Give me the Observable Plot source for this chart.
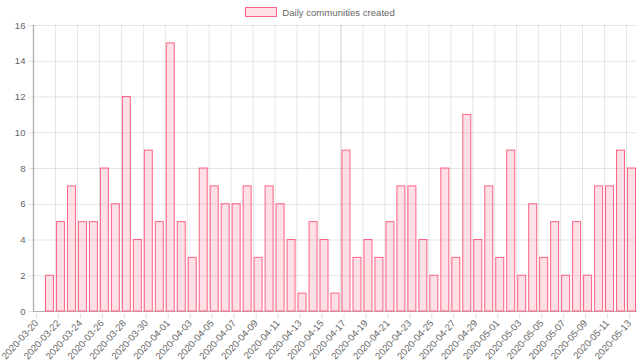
<!DOCTYPE html>
<html>
<head>
<meta charset="utf-8">
<script src="https://cdn.jsdelivr.net/npm/d3@7"></script>
<script src="https://cdn.jsdelivr.net/npm/@observablehq/plot@0.6"></script>
<style>
  body { margin: 0; background: #fff; font-family: "Liberation Sans", Arial, Helvetica, sans-serif; }
  #wrap { width: 640px; }
  #legend { height: 19px; box-sizing: border-box; padding-top: 5px; display: flex; justify-content: center; align-items: center; font-size: 9.6px; color: #666; }
  #legend .box { width: 30px; height: 8px; background: rgba(255,99,132,0.2); border: 1px solid rgb(255,99,132); margin-right: 5px; }
  svg { display: block; }
</style>
</head>
<body>
<div id="wrap">
  <div id="legend"></div>
  <div id="chart"></div>
</div>
<script>
const seriesName = "Daily communities created";

const days = [
  "2020-03-21","2020-03-22","2020-03-23","2020-03-24","2020-03-25","2020-03-26","2020-03-27","2020-03-28","2020-03-29","2020-03-30","2020-03-31",
  "2020-04-01","2020-04-02","2020-04-03","2020-04-04","2020-04-05","2020-04-06","2020-04-07","2020-04-08","2020-04-09","2020-04-10",
  "2020-04-11","2020-04-12","2020-04-13","2020-04-14","2020-04-15","2020-04-16","2020-04-17","2020-04-18","2020-04-19","2020-04-20",
  "2020-04-21","2020-04-22","2020-04-23","2020-04-24","2020-04-25","2020-04-26","2020-04-27","2020-04-28","2020-04-29","2020-04-30",
  "2020-05-01","2020-05-02","2020-05-03","2020-05-04","2020-05-05","2020-05-06","2020-05-07","2020-05-08","2020-05-09","2020-05-10",
  "2020-05-11","2020-05-12","2020-05-13"
];

const counts = [
  2, 5, 7, 5, 5, 8, 6, 12, 4, 9, 5,
  15, 5, 3, 8, 7, 6, 6, 7, 3, 7,
  6, 4, 1, 5, 4, 1, 9, 3, 4, 3,
  5, 7, 7, 4, 2, 8, 3, 11, 4, 7,
  3, 9, 2, 6, 3, 5, 2, 5, 2, 7,
  7, 9, 8
];

const xTickLabels = [
  "2020-03-20","2020-03-22","2020-03-24","2020-03-26","2020-03-28","2020-03-30",
  "2020-04-01","2020-04-03","2020-04-05","2020-04-07","2020-04-09","2020-04-11",
  "2020-04-13","2020-04-15","2020-04-17","2020-04-19","2020-04-21","2020-04-23",
  "2020-04-25","2020-04-27","2020-04-29","2020-05-01","2020-05-03","2020-05-05",
  "2020-05-07","2020-05-09","2020-05-11","2020-05-13"
];

const yTicks = [0, 2, 4, 6, 8, 10, 12, 14, 16];

const domainStart = "2020-03-20";
const domainEnd = "2020-05-14";
const majorLine = "2020-04-17";

const toDate = s => new Date(s + "T00:00:00Z");
const data = days.map((d, i) => ({date: toDate(d), value: counts[i]}));
const tickDates = xTickLabels.map(toDate);

const legend = document.getElementById("legend");
legend.innerHTML = '<div class="box"></div><span></span>';
legend.querySelector("span").textContent = seriesName;

const chart = Plot.plot({
  width: 640,
  height: 342,
  marginTop: 6,
  marginLeft: 33,
  marginRight: 3,
  marginBottom: 50,
  style: {fontFamily: '"Liberation Sans", Arial, Helvetica, sans-serif', fontSize: "9.6px", color: "#666", background: "#fff"},
  x: {type: "utc", domain: [toDate(domainStart), toDate(domainEnd)], label: null},
  y: {domain: [0, 16], label: null},
  marks: [
    Plot.gridX(tickDates, {stroke: "#000", strokeOpacity: 0.1}),
    Plot.gridY(yTicks, {stroke: "#000", strokeOpacity: 0.1}),
    Plot.ruleX([toDate(majorLine)], {stroke: "#000", strokeOpacity: 0.05, strokeWidth: 2}),
    Plot.axisX(tickDates, {tickFormat: d3.utcFormat("%Y-%m-%d"), tickRotate: -48, tickSize: 6, tickPadding: 2, dx: 3, dy: 2, stroke: "#e3e3e3", fill: "#666", label: null}),
    Plot.axisY(yTicks, {tickSize: 5, tickPadding: 3, stroke: "#e3e3e3", fill: "#666", label: null}),
    Plot.ruleX([toDate(domainStart)], {stroke: "#000", strokeOpacity: 0.22, strokeWidth: 1.5}),
    Plot.ruleY([0], {stroke: "#000", strokeOpacity: 0.22, strokeWidth: 1}),
    Plot.rectY(data, {x: "date", y: "value", interval: "day", insetLeft: 1.5, insetRight: 1.5,
      fill: "rgba(255,99,132,0.2)", stroke: "rgb(255,99,132)", strokeWidth: 1})
  ]
});
document.getElementById("chart").appendChild(chart);
</script>
</body>
</html>
